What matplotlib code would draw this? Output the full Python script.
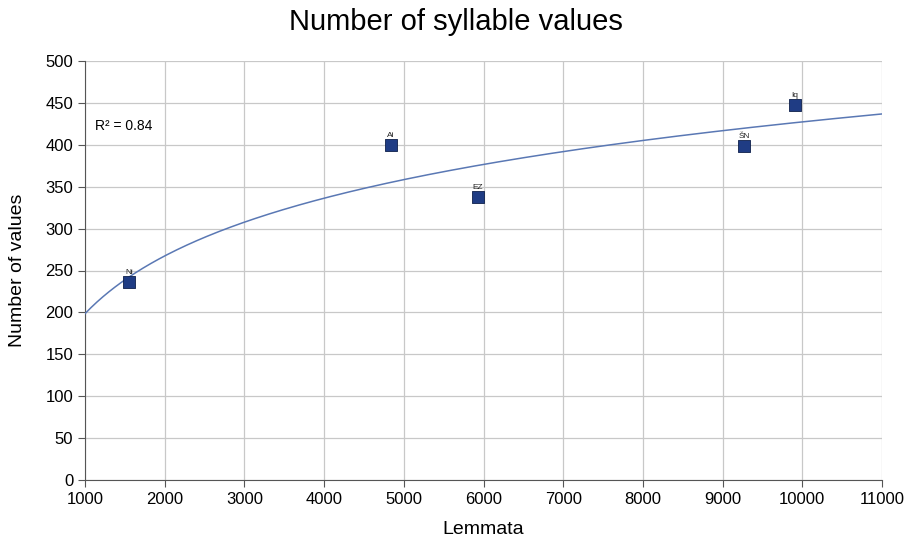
import numpy as np
import matplotlib
matplotlib.use("Agg")
import matplotlib.pyplot as plt

plt.rcParams['font.family'] = ['Liberation Sans', 'DejaVu Sans']

names = ["Ni", "Ai", "EZ", "ŠN", "Iq"]
lemmata = [1552, 4839, 5931, 9269, 9908]
values = [236, 400, 338, 398, 447]
x_ticks = [1000, 2000, 3000, 4000, 5000, 6000, 7000, 8000, 9000, 10000, 11000]
y_ticks = [0, 50, 100, 150, 200, 250, 300, 350, 400, 450, 500]

fig = plt.figure(figsize=(9.11, 5.42), dpi=100)
ax = fig.add_axes([85/911, 1-480/542, (882-85)/911, (480-61)/542])

# logarithmic trend line fitted from data
b, a = np.polyfit(np.log(lemmata), values, 1)
xs = np.linspace(1000, 11000, 400)
ax.plot(xs, a + b*np.log(xs), color='#5a78b4', lw=1.1, zorder=3)

ax.scatter(lemmata, values, marker='s', s=80, color='#1f3c84',
           edgecolor='#0d1f4a', linewidth=0.6, zorder=4)
for n, x, y in zip(names, lemmata, values):
    ax.annotate(n, (x, y), xytext=(0, 4.5), textcoords='offset points',
                ha='center', va='bottom', fontsize=6, color='#222222', zorder=5)

ax.set_xlim(1000, 11000)
ax.set_ylim(0, 500)
ax.set_xticks(x_ticks)
ax.set_yticks(y_ticks)
ax.grid(True, color='#c8c8c8', lw=0.9)
ax.set_axisbelow(True)
for s in ['top', 'right']:
    ax.spines[s].set_visible(False)
ax.spines['left'].set_color('#555555')
ax.spines['bottom'].set_color('#555555')
ax.tick_params(axis='both', labelsize=12, length=5, color='#555555', width=0.8)

ax.set_xlabel('Lemmata', fontsize=14, labelpad=10)
ax.set_ylabel('Number of values', fontsize=14, labelpad=14)
fig.text(0.5, 1-22/542, 'Number of syllable values', fontsize=21,
         ha='center', va='center')

ax.text(1120, 422, 'R² = 0.84', fontsize=10, ha='left', va='center',
        bbox=dict(facecolor='white', edgecolor='none', pad=2), zorder=6)

fig.savefig('out.png', dpi=100)
